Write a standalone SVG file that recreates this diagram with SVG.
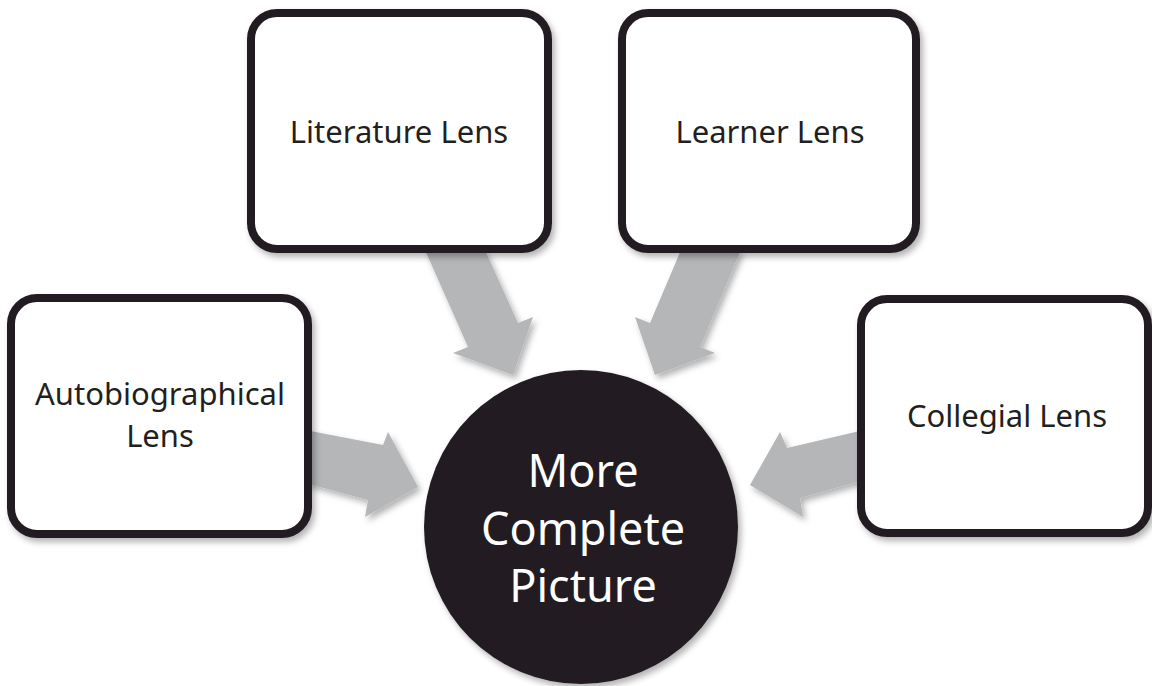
<svg xmlns="http://www.w3.org/2000/svg" width="1152" height="686" viewBox="0 0 1152 686">
<defs>
<filter id="sh" x="-20%" y="-20%" width="140%" height="140%">
<feDropShadow dx="3" dy="4" stdDeviation="3" flood-color="#000" flood-opacity="0.3"/>
</filter>
<style>
.box{fill:#fff;stroke:#231f20;stroke-width:8;filter:url(#sh)}
.arr{fill:#b5b6b8;filter:url(#sh)}
.t{font-family:"Noto Sans","Open Sans",sans-serif;font-size:31px;fill:#231f20;text-anchor:middle}
.c{font-family:"Noto Sans","Open Sans",sans-serif;font-size:45px;fill:#fff;text-anchor:middle}
</style>
</defs>
<rect width="1152" height="686" fill="#fff"/>
<g id="connectors">
<polygon class="arr" points="425,250 485,250 518,323 533,317 513,375 453,353 468,347"/>
<polygon class="arr" points="741,250 681,250 650,323 635,317 655,375 715,353 700,347"/>
<polygon class="arr" points="305,430 383,445 388,432 418,487 365,517 368,500 305,483"/>
<polygon class="arr" points="864,430 787,448 780,432 750,485 803,517 800,498 864,480"/>
</g>
<g id="literature">
<rect class="box" x="251" y="13" width="297" height="236" rx="26"/>
<text class="t" x="399" y="143">Literature Lens</text>
</g>
<g id="learner">
<rect class="box" x="622" y="13" width="294" height="236" rx="26"/>
<text class="t" x="770" y="143">Learner Lens</text>
</g>
<g id="autobiographical">
<rect class="box" x="11" y="298" width="297" height="236" rx="26"/>
<text class="t" x="160" y="405">Autobiographical</text>
<text class="t" x="160" y="447">Lens</text>
</g>
<g id="collegial">
<rect class="box" x="861" y="299" width="287" height="234" rx="26"/>
<text class="t" x="1007" y="427">Collegial Lens</text>
</g>
<g id="center">
<circle cx="581" cy="527" r="157" fill="#231f20" filter="url(#sh)"/>
<text class="c" x="583" y="487">More</text>
<text class="c" x="583" y="545">Complete</text>
<text class="c" x="583" y="602">Picture</text>
</g>
</svg>
